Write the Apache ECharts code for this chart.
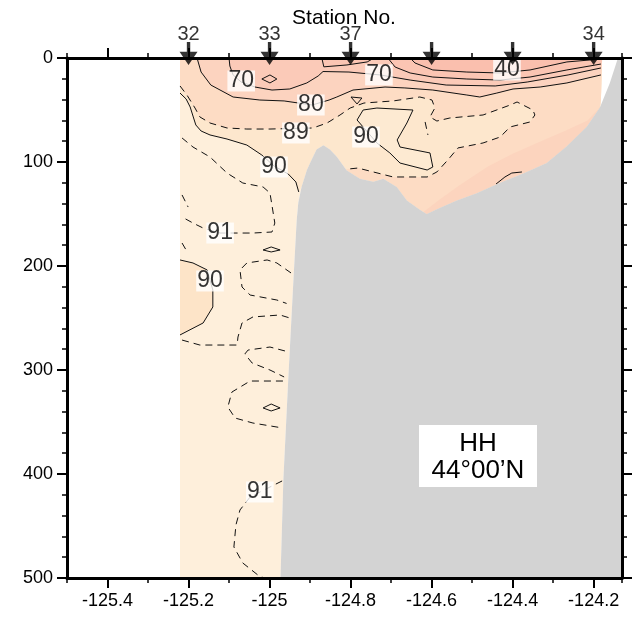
<!DOCTYPE html>
<html>
<head>
<meta charset="utf-8">
<script src="https://cdn.jsdelivr.net/npm/echarts/dist/echarts.min.js"></script>
<style>html,body{margin:0;padding:0;background:#fff;}#chart{width:635px;height:618px;}</style>
</head>
<body>
<div id="chart"></div>
<script>
// ---------- data (longitude, depth m) ----------
const stationLon = [-125.2, -125.0, -124.8, -124.6, -124.4, -124.2];
const stationName = ['32', '33', '37', '', '', '34'];

const leftEdge = -125.221, rightEdge = -124.179;

const bathy = [[-124.14,0],[-124.160,24],[-124.184,47],[-124.217,66],[-124.267,85],[-124.316,101],[-124.374,111],[-124.431,120],[-124.489,130],[-124.538,137],[-124.579,144],[-124.612,150],[-124.629,146],[-124.661,137],[-124.686,124],[-124.719,116],[-124.744,119],[-124.777,116],[-124.810,108],[-124.834,95],[-124.851,88],[-124.867,84],[-124.884,88],[-124.900,101],[-124.908,108],[-124.921,124],[-124.929,139],[-124.933,156],[-124.941,213],[-124.954,310],[-124.966,406],[-124.973,500]];

const c40 = [[-124.653,0],[-124.641,4.8],[-124.597,11.5],[-124.513,13.5],[-124.431,14.4],[-124.357,11.5],[-124.266,3.8],[-124.182,1]];
const c60a = [[-124.871,0],[-124.866,8.5],[-124.809,6.7],[-124.759,3.8],[-124.742,0]];
const c60b = [[-124.708,0],[-124.690,8.7],[-124.653,14.4],[-124.597,18.3],[-124.513,20.2],[-124.431,21.2],[-124.357,18.3],[-124.266,11.5],[-124.182,5.8]];
const c70 = [[-125.100,0],[-125.098,7.7],[-125.090,16.3],[-125.070,23.1],[-125.036,27.9],[-124.994,30.8],[-124.950,29.8],[-124.908,24],[-124.880,17.3],[-124.868,13],[-124.804,13.5],[-124.727,16.3],[-124.653,21.2],[-124.564,26],[-124.443,26.9],[-124.364,23.1],[-124.263,16.3],[-124.182,9.6]];
const c70diamond = [[-125.019,20.2],[-124.999,16.3],[-124.982,20.2],[-124.999,24],[-125.019,20.2]];
const c80 = [[-125.179,0],[-125.169,13.5],[-125.145,26],[-125.090,37.5],[-125.024,40.4],[-124.964,41.3],[-124.895,45.2],[-124.853,40.4],[-124.834,37.5],[-124.794,30.8],[-124.715,27.9],[-124.666,28.8],[-124.597,30.8],[-124.513,35.6],[-124.481,37.5],[-124.439,33.7],[-124.399,29.8],[-124.332,27.9],[-124.266,24],[-124.182,16.3]];
const c80slope = [[-124.441,121.2],[-124.419,114.4],[-124.402,110.6],[-124.377,109.6]];
const c89 = [[-125.221,26.9],[-125.204,35.6],[-125.184,48.1],[-125.172,56.7],[-125.147,62.5],[-125.105,67.3],[-125.056,68.3],[-124.999,68.3],[-124.893,67.3],[-124.858,62.5],[-124.826,54.8],[-124.801,48.1],[-124.767,43.3],[-124.695,41.3],[-124.629,37.5],[-124.599,40.4],[-124.592,48.1],[-124.604,56.7],[-124.587,60.6],[-124.555,57.7],[-124.473,54.8],[-124.406,45.2],[-124.389,42.3],[-124.350,50],[-124.345,54.8],[-124.357,61.5],[-124.406,66.3],[-124.431,76],[-124.473,81.7],[-124.535,86.5],[-124.560,98.1],[-124.587,109.6],[-124.611,114.4],[-124.695,114.4],[-124.782,105.8],[-124.812,107]];
const c89b = [[-124.616,61.5],[-124.609,74]];
const c90tri = [[-124.799,37.5],[-124.772,38.5],[-124.784,44.2],[-124.799,37.5]];
const c90left = [[-125.221,33.7],[-125.206,39.4],[-125.196,47.1],[-125.189,55.8],[-125.182,64.4],[-125.169,70.2],[-125.147,74],[-125.105,77.9],[-125.056,83.7],[-125.019,93.3],[-124.989,103.8],[-124.954,111.5],[-124.935,119.2],[-124.928,128.8]];
const c90mid = [[-124.784,59.6],[-124.769,50],[-124.735,48.1],[-124.646,50],[-124.661,62.5],[-124.685,78.8],[-124.678,85.6],[-124.604,91.3],[-124.597,104.8],[-124.611,107.7],[-124.678,101],[-124.703,91.3],[-124.735,81.7],[-124.784,59.6]];
const c91lobe = [[-125.216,76.9],[-125.189,85.6],[-125.147,95.2],[-125.105,110.6],[-125.066,120.2],[-125.016,124],[-124.999,129.8],[-124.991,149],[-124.987,158.7],[-124.994,167.3],[-125.041,168.3],[-125.080,168.3],[-125.122,168.3],[-125.164,163.5],[-125.189,158.7],[-125.216,152.9]];
const c91bitA = [[-125.216,131.7],[-125.201,143.3]];
const c91bitB = [[-125.216,177.9],[-125.206,184.6]];
const c90diamond2 = [[-125.016,184.6],[-124.996,181.7],[-124.974,184.6],[-124.996,186.5],[-125.016,184.6]];
const c91wall = [[-124.947,206.7],[-124.982,197.1],[-125.006,194.2],[-125.056,197.1],[-125.073,203.8],[-125.068,220.2],[-125.048,227.9],[-124.982,232.7],[-124.958,236]];
const c90low = [[-125.221,194.2],[-125.189,197.1],[-125.154,203.8],[-125.140,223.1],[-125.140,239.4],[-125.164,254.8],[-125.221,266.3]];
const c91mid = [[-125.216,271.2],[-125.172,276],[-125.080,276],[-125.078,268.3],[-125.068,254.8],[-125.041,249],[-124.974,247.1],[-124.950,250]];
const c91a = [[-124.962,281.7],[-124.999,277.9],[-125.053,280.8],[-125.061,284.6],[-125.043,293.3],[-124.999,300],[-124.964,306.7]];
const c91b = [[-124.967,310.6],[-125.048,310.6],[-125.093,321.2],[-125.103,335.6],[-125.085,346.2],[-125.041,351],[-124.967,355.8]];
const c90diamond3 = [[-125.016,336.5],[-124.996,332.7],[-124.974,336.5],[-124.996,339.4],[-125.016,336.5]];
const c91deep = [[-124.969,406.7],[-124.999,412.5],[-125.048,422.1],[-125.073,434.6],[-125.083,449],[-125.088,470.2],[-125.066,485.6],[-125.029,497.1],[-125.014,500]];
const shelfTint = [[-124.62,148],[-124.58,136],[-124.53,122],[-124.46,104],[-124.40,92],[-124.33,80],[-124.27,70],[-124.215,60],[-124.19,50]];

const labelLon = [-125.070,-124.898,-124.935,-124.762,-124.989,-124.730,-124.414,-125.122,-125.147,-125.024];
const labelDepth = [22.1,45.2,72.1,76,104.8,16.3,11.5,168.3,214.4,417.3];
const labelText = ['70','80','89','90','90','70','40','91','90','91'];

// ---------- build ----------
const FONT = '"Liberation Sans", Arial, Helvetica, sans-serif';
const XMIN = -125.5, XMAX = -124.13;

function poly(points, color, z) {
  return {
    type: 'custom', xAxisIndex: 0, yAxisIndex: 0, clip: true, silent: true, z: z,
    data: [[-125.0, 100]],
    renderItem: function (params, api) {
      return { type: 'polygon', shape: { points: points.map(p => api.coord(p)) }, style: { fill: color } };
    }
  };
}
function line(points, dashed) {
  return {
    type: 'line', xAxisIndex: 0, yAxisIndex: 0, data: points, showSymbol: false, symbol: 'none',
    silent: true, z: 2, lineStyle: { color: '#111', width: 1, type: dashed ? [7, 5] : 'solid' }
  };
}

const waterPoly = [[leftEdge,0],[rightEdge,0],[-124.182,40]].concat(bathy.slice(2)).concat([[leftEdge,500]]);
const lt90Poly = [[leftEdge,0]].concat(c90left).concat(bathy.slice(2,26).reverse()).concat([[-124.182,40],[rightEdge,0]]);
const lt89Poly = [[leftEdge,0]].concat(c89).concat(bathy.slice(2,19).reverse()).concat([[-124.182,40],[rightEdge,0]]);
const slopePoly = shelfTint.concat(bathy.slice(2,12));
const lt80Poly = c80.concat([[rightEdge,0]]);
const lt70Poly = c70.concat([[rightEdge,0]]);
const lt60bPoly = c60b.concat([[rightEdge,0]]);
const lt40Poly = c40.concat([[rightEdge,0]]);
const grayPoly = bathy.concat([[XMAX,500],[XMAX,0]]);

const series = [
  poly(waterPoly, '#feefdb', 1),
  poly(lt90Poly, '#fde7cd', 1),
  poly(c90low, '#fde4c8', 1),
  poly(lt89Poly, '#fddcc4', 1),
  poly(c90mid, '#fdead2', 1),
  poly(slopePoly, '#fcd4be', 1),
  poly(lt80Poly, '#fcd3bf', 1),
  poly(lt70Poly, '#fbcab8', 1),
  poly(c60a, '#fbc5b3', 1),
  poly(lt60bPoly, '#fbc5b3', 1),
  poly(lt40Poly, '#fabfae', 1),
  line(c40), line(c60a), line(c60b), line(c70), line(c70diamond), line(c80), line(c80slope),
  line(c89, true), line(c89b, true), line(c90tri), line(c90left), line(c90mid),
  line(c91lobe, true), line(c91bitA, true), line(c91bitB, true), line(c90diamond2),
  line(c91wall, true), line(c90low), line(c91mid, true), line(c91a, true), line(c91b, true),
  line(c90diamond3), line(c91deep, true),
  poly(grayPoly, '#d3d3d3', 3),
  {
    type: 'scatter', xAxisIndex: 0, yAxisIndex: 0, z: 4, silent: true,
    symbol: 'rect', symbolSize: 1, itemStyle: { color: 'rgba(0,0,0,0)' },
    data: labelLon.map((x, i) => [x, labelDepth[i], labelText[i]]),
    label: {
      show: true, position: 'inside', formatter: p => p.data[2],
      fontSize: 23, fontFamily: FONT, color: '#000', backgroundColor: '#fff',
      padding: [0, 1, 0, 1], lineHeight: 21
    }
  },
  {
    type: 'scatter', xAxisIndex: 0, yAxisIndex: 0, z: 5, silent: true, clip: false,
    symbol: 'path://M6.5,0L9.5,0L9.5,9L16,9L8,21L0,9L6.5,9Z', symbolSize: [18, 23], symbolOffset: [0, -4.5],
    symbolKeepAspect: false,
    itemStyle: { color: '#000' },
    data: stationLon.map(x => [x, 0]),
    label: {
      show: true, position: 'top', distance: -2, formatter: p => stationName[p.dataIndex],
      fontSize: 20, fontFamily: FONT, color: '#000'
    }
  }
];

const minorX = (pos) => ({
  gridIndex: 0, type: 'value', min: XMIN, max: XMAX, interval: 0.1, position: pos, z: 10,
  axisLine: { onZero: false, lineStyle: { color: '#000', width: 3 } },
  axisTick: { length: 5, lineStyle: { color: '#000', width: 1.5 } },
  axisLabel: { show: false }, splitLine: { show: false }
});
const majorX = (pos, showLabel) => ({
  gridIndex: 1, type: 'value', min: -125.4, max: -124.2, interval: 0.2, position: pos, z: 10,
  axisLine: { show: false, onZero: false },
  axisTick: { length: 10, lineStyle: { color: '#000', width: 2 } },
  axisLabel: { show: showLabel, fontSize: 18, fontFamily: FONT, color: '#000', margin: 14,
    formatter: v => String(Math.round(v * 10) / 10) },
  splitLine: { show: false }
});
const depthY = (pos, showLabel) => ({
  gridIndex: 0, type: 'value', inverse: true, min: 0, max: 500, interval: 100, position: pos, z: 10,
  axisLine: { onZero: false, lineStyle: { color: '#000', width: 3 } },
  axisTick: { length: 10, lineStyle: { color: '#000', width: 2 } },
  minorTick: { show: true, splitNumber: 5, length: 5, lineStyle: { color: '#000', width: 1.5 } },
  axisLabel: { show: showLabel, fontSize: 18, fontFamily: FONT, color: '#000', margin: 14 },
  splitLine: { show: false }, minorSplitLine: { show: false }
});

const option = {
  animation: false,
  backgroundColor: '#fff',
  grid: [
    { left: 67, right: 13, top: 58, bottom: 40 },
    { left: 107.51, right: 41.36, top: 58, bottom: 40 }
  ],
  xAxis: [minorX('bottom'), minorX('top'), majorX('bottom', true), majorX('top', false)],
  yAxis: [depthY('left', true), depthY('right', false),
    { gridIndex: 1, type: 'value', inverse: true, min: 0, max: 500, show: false }],
  series: series,
  graphic: [
    { type: 'text', x: 344, y: 18, z: 20,
      style: { text: 'Station No.', font: '21px ' + FONT, fill: '#000', textAlign: 'center', textVerticalAlign: 'middle' } },
    { type: 'rect', shape: { x: 419, y: 425, width: 118, height: 62 }, style: { fill: '#fff' }, z: 20 },
    { type: 'text', x: 478, y: 457, z: 21,
      style: { text: 'HH\n44°00’N', font: '26px ' + FONT, fill: '#000', textAlign: 'center', textVerticalAlign: 'middle', lineHeight: 27 } }
  ]
};

const chart = echarts.init(document.getElementById('chart'), null, { renderer: 'canvas' });
chart.setOption(option);
</script>
</body>
</html>
